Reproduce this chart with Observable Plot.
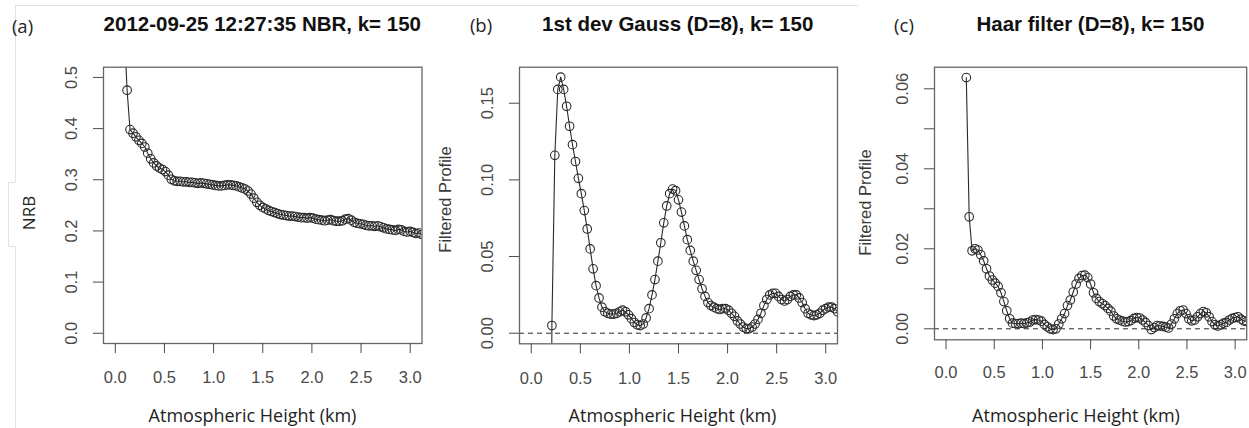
<!DOCTYPE html>
<html><head><meta charset="utf-8">
<script src="https://cdn.jsdelivr.net/npm/d3@7"></script>
<script src="https://cdn.jsdelivr.net/npm/@observablehq/plot@0.6"></script>
<style>
html,body{margin:0;padding:0;background:#fff;}
#wrap{position:relative;width:1249px;height:428px;overflow:hidden;background:#fff;}
#wrap svg.panel{position:absolute;top:0;}
#overlay{position:absolute;left:0;top:0;pointer-events:none;}
</style></head><body><div id="wrap"></div>
<script>
// ---- data ----
const heightsKm = [0.09,0.12,0.15,0.18,0.21,0.24,0.27,0.30,0.33,0.36,0.39,0.42,0.45,0.48,0.51,0.54,0.57,0.60,0.63,0.66,0.69,0.72,0.75,0.78,0.81,0.84,0.87,0.90,0.93,0.96,0.99,1.02,1.05,1.08,1.11,1.14,1.17,1.20,1.23,1.26,1.29,1.32,1.35,1.38,1.41,1.44,1.47,1.50,1.53,1.56,1.59,1.62,1.65,1.68,1.71,1.74,1.77,1.80,1.83,1.86,1.89,1.92,1.95,1.98,2.01,2.04,2.07,2.10,2.13,2.16,2.19,2.22,2.25,2.28,2.31,2.34,2.37,2.40,2.43,2.46,2.49,2.52,2.55,2.58,2.61,2.64,2.67,2.70,2.73,2.76,2.79,2.82,2.85,2.88,2.91,2.94,2.97,3.00,3.03,3.06,3.09,3.12];

// (a) NRB, heights 0.09 .. 3.12
const nrbValues = [0.60,0.475,0.398,0.391,0.384,0.377,0.371,0.364,0.352,0.341,
0.333,0.327,0.323,0.320,0.316,0.309,0.301,0.298,0.297,0.297,
0.296,0.296,0.295,0.295,0.294,0.293,0.294,0.293,0.292,0.291,
0.290,0.289,0.288,0.288,0.289,0.290,0.290,0.289,0.288,0.286,
0.284,0.282,0.278,0.272,0.264,0.256,0.250,0.246,0.243,0.240,
0.238,0.236,0.234,0.232,0.231,0.230,0.229,0.229,0.228,0.227,
0.226,0.226,0.225,0.226,0.225,0.223,0.222,0.221,0.220,0.221,
0.222,0.220,0.219,0.219,0.220,0.223,0.224,0.221,0.217,0.215,
0.214,0.213,0.211,0.210,0.210,0.209,0.210,0.208,0.206,0.204,
0.203,0.202,0.201,0.203,0.202,0.199,0.198,0.199,0.197,0.195,
0.196,0.193];

// (b) 1st derivative Gauss, heights 0.18 .. 3.12
const gaussValues = [-0.40,0.005,0.116,0.159,0.167,0.159,0.148,0.135,0.123,0.112,
0.101,0.091,0.080,0.068,0.055,0.042,0.031,0.023,0.017,0.014,
0.013,0.0125,0.0125,0.013,0.014,0.015,0.014,0.012,0.0095,0.007,
0.0055,0.005,0.006,0.010,0.016,0.025,0.035,0.047,0.059,0.072,
0.083,0.091,0.094,0.093,0.087,0.079,0.070,0.061,0.054,0.047,
0.041,0.035,0.029,0.024,0.020,0.018,0.017,0.016,0.0155,0.016,
0.016,0.015,0.013,0.011,0.008,0.006,0.004,0.003,0.003,0.004,
0.006,0.009,0.013,0.018,0.022,0.025,0.026,0.026,0.024,0.022,
0.021,0.022,0.024,0.025,0.025,0.023,0.020,0.016,0.013,0.012,
0.0115,0.012,0.013,0.015,0.016,0.017,0.017,0.016,0.014];

// (c) Haar filter, heights 0.21 .. 3.12
const haarValues = [0.0628,0.028,0.0195,0.020,0.0197,0.0185,0.017,0.015,0.0132,0.0122,
0.0114,0.0106,0.009,0.0068,0.0045,0.0025,0.0014,0.0013,0.0013,0.0014,
0.0013,0.0015,0.0017,0.0022,0.0023,0.0022,0.0019,0.0011,0.0005,0.0,
-0.0002,0.0,0.0012,0.0025,0.0038,0.0058,0.0072,0.0092,0.0112,0.0126,
0.0133,0.0134,0.0128,0.0112,0.0090,0.0076,0.0068,0.0063,0.0058,0.0051,
0.0044,0.0032,0.0025,0.0022,0.0019,0.0017,0.0018,0.0021,0.0026,0.0028,
0.0027,0.0022,0.0016,0.0008,-0.0002,0.0003,0.0008,0.0007,0.0006,0.0004,
0.0002,0.0012,0.0025,0.0038,0.0045,0.0047,0.0038,0.0025,0.0020,0.0022,
0.0030,0.0038,0.0043,0.0040,0.0030,0.0018,0.0010,0.0007,0.0010,0.0014,
0.0016,0.0022,0.0026,0.0028,0.0030,0.0024,0.0020,0.0018];

const xTicks = [0, 0.5, 1, 1.5, 2, 2.5, 3];
const yTicksA = [0, 0.1, 0.2, 0.3, 0.4, 0.5];
const yTicksB = [0, 0.05, 0.10, 0.15];
const yTicksC = [0, 0.01, 0.02, 0.03, 0.04, 0.05, 0.06];

const titles = ["2012-09-25 12:27:35 NBR, k= 150", "1st dev Gauss (D=8), k= 150", "Haar filter (D=8), k= 150"];
const panelTags = ["(a)", "(b)", "(c)"];
const xTitle = "Atmospheric Height (km)";
const yTitles = ["NRB", "Filtered Profile", "Filtered Profile"];

// ---- build ----
const rowsA = nrbValues.map((v, i) => ({h: heightsKm[i], v}));
const rowsB = gaussValues.map((v, i) => ({h: heightsKm[i + 3], v}));
const rowsC = haarValues.map((v, i) => ({h: heightsKm[i + 4], v}));

const wrap = document.getElementById("wrap");
const INK = "#2a2a2a";

function panel({left, right, top, bottom, yDomain, yTicks, yFmt, rows, dashed, xPad}) {
  const mL = 60;
  const mR = Math.min(10, 1249 - right);
  const width = mL + (right - left) + mR;
  const svg = Plot.plot({
    width, height: 428,
    marginLeft: mL, marginRight: mR, marginTop: top, marginBottom: 428 - bottom,
    x: {domain: [-0.12, 3.12]},
    y: {domain: yDomain},
    style: {background: "transparent", fontFamily: "'Liberation Sans', Arial, sans-serif", fontSize: "16.5px", color: "#4a4a4a", overflow: "visible"},
    marks: [
      dashed ? Plot.ruleY([0], {stroke: INK, strokeWidth: 1, strokeDasharray: "5,4"}) : null,
      Plot.line(rows, {x: "h", y: "v", stroke: INK, strokeWidth: 1.1, clip: true}),
      Plot.dot(rows, {x: "h", y: "v", r: 4.3, stroke: INK, fill: "none", strokeWidth: 1.1, clip: true}),
      Plot.frame({stroke: "#666", strokeWidth: 1.3}),
      Plot.axisX({ticks: xTicks, tickSize: 10, tickPadding: xPad, tickFormat: d3.format(".1f"), label: null, fontSize: 16.5}),
      Plot.axisY({ticks: yTicks, tickSize: 10, tickPadding: 21.5, tickRotate: -90, textAnchor: "middle", lineAnchor: "middle", tickFormat: yFmt, label: null, fontSize: 16.5})
    ]
  });
  svg.classList.add("panel");
  svg.style.left = (left - mL) + "px";
  wrap.appendChild(svg);
}

panel({left: 103, right: 421.5, top: 66.7, bottom: 343, yDomain: [-0.02, 0.52], yTicks: yTicksA, yFmt: d3.format(".1f"), rows: rowsA, dashed: false, xPad: 18});
panel({left: 518.7, right: 836.7, top: 66.7, bottom: 343.3, yDomain: [-0.0069, 0.1735], yTicks: yTicksB, yFmt: d3.format(".2f"), rows: rowsB, dashed: true, xPad: 18});
panel({left: 934.3, right: 1246.5, top: 66.7, bottom: 339.3, yDomain: [-0.00275, 0.0654], yTicks: yTicksC,
  yFmt: d => (Math.round(d * 100) % 2 === 0 ? d3.format(".2f")(d) : ""), rows: rowsC, dashed: true, xPad: 16.5});

// ---- annotation layer (titles, tags, axis titles) ----
const ov = d3.select(wrap).append("svg").attr("id", "overlay").attr("width", 1249).attr("height", 428);
// faint edges of the pasted figure
ov.append("path").attr("d", "M15,5.5H858 M15.5,5.5V182 M15.5,247V428 M8.5,182V247 M8.5,182.5H15.5 M8.5,246.5H15.5")
  .attr("stroke", "#e2e2e2").attr("fill", "none").attr("stroke-width", 1);

const titleX = [262.3, 677.7, 1090.4];
titles.forEach((t, i) => ov.append("text").text(t).attr("x", titleX[i]).attr("y", 31)
  .attr("text-anchor", "middle").attr("font-family", "'Liberation Sans', Arial, sans-serif")
  .attr("font-weight", "bold").attr("font-size", 20.5).attr("fill", "#111"));

const tagX = [22.5, 481, 904], tagY = [33, 32, 32];
panelTags.forEach((t, i) => ov.append("text").text(t).attr("x", tagX[i]).attr("y", tagY[i])
  .attr("text-anchor", "middle").attr("font-family", "'Open Sans', sans-serif").attr("font-size", 18.5).attr("fill", "#222"));

const xTitleX = [252.5, 672.5, 1076];
xTitleX.forEach(x => ov.append("text").text(xTitle).attr("x", x).attr("y", 421.5)
  .attr("text-anchor", "middle").attr("font-family", "'Open Sans', sans-serif").attr("font-size", 18).attr("fill", "#222"));

ov.append("text").text(yTitles[0]).attr("transform", "translate(35,213) rotate(-90)")
  .attr("text-anchor", "middle").attr("font-family", "'Open Sans', sans-serif").attr("font-size", 17).attr("fill", "#222");
[[450.7, 199.5, 1], [870.7, 202.5, 2]].forEach(([x, y, i]) => ov.append("text").text(yTitles[i])
  .attr("transform", `translate(${x},${y}) rotate(-90)`).attr("text-anchor", "middle")
  .attr("font-family", "'Liberation Sans', Arial, sans-serif").attr("font-size", 16.5).attr("fill", "#3a3a3a"));
</script></body></html>
